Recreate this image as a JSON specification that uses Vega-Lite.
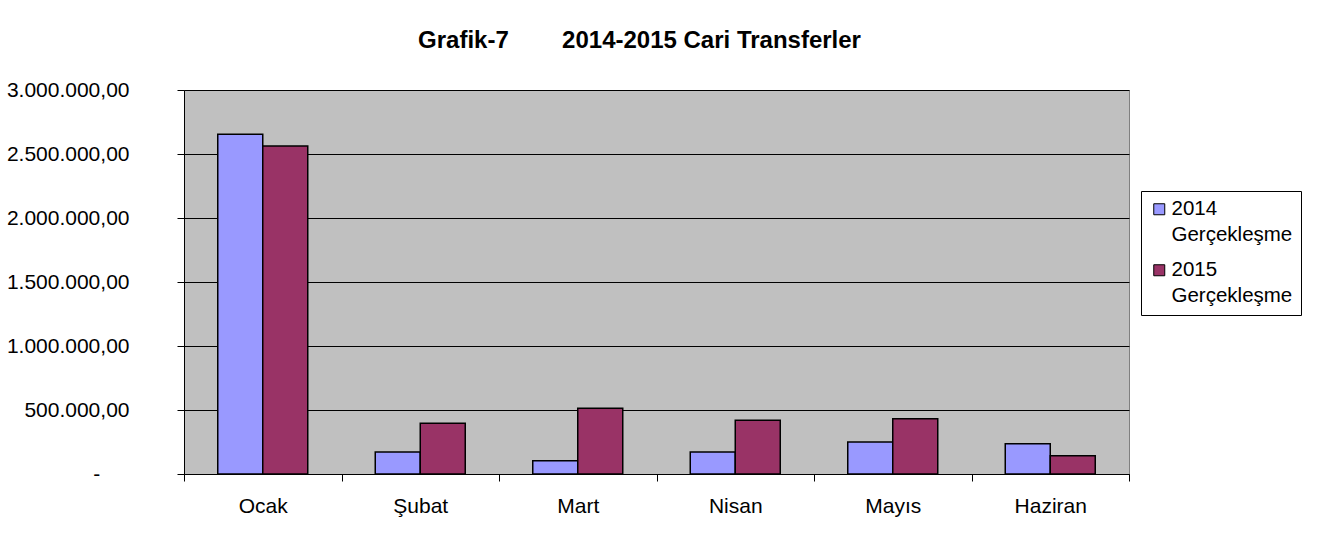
{
  "$schema": "https://vega.github.io/schema/vega-lite/v6.json",
  "width": 945,
  "height": 384,
  "autosize": {"type": "none"},
  "padding": {"left": 184, "top": 90, "right": 192, "bottom": 73},
  "background": "white",
  "title": {
    "text": "Grafik-7\u00a0\u00a0\u00a0\u00a0\u00a0\u00a0\u00a0\u00a02014-2015 Cari Transferler",
    "fontSize": 24,
    "font": "Liberation Sans",
    "fontWeight": "bold",
    "color": "black",
    "anchor": "middle",
    "offset": 26,
    "dx": -17
  },
  "data": {
    "values": [
      {"month": "Ocak", "series": "2014 Gerçekleşme", "value": 2654000},
      {"month": "Ocak", "series": "2015 Gerçekleşme", "value": 2562000},
      {"month": "Şubat", "series": "2014 Gerçekleşme", "value": 172000},
      {"month": "Şubat", "series": "2015 Gerçekleşme", "value": 396000},
      {"month": "Mart", "series": "2014 Gerçekleşme", "value": 104000},
      {"month": "Mart", "series": "2015 Gerçekleşme", "value": 513000},
      {"month": "Nisan", "series": "2014 Gerçekleşme", "value": 172000},
      {"month": "Nisan", "series": "2015 Gerçekleşme", "value": 420000},
      {"month": "Mayıs", "series": "2014 Gerçekleşme", "value": 250000},
      {"month": "Mayıs", "series": "2015 Gerçekleşme", "value": 432000},
      {"month": "Haziran", "series": "2014 Gerçekleşme", "value": 237000},
      {"month": "Haziran", "series": "2015 Gerçekleşme", "value": 143000}
    ]
  },
  "mark": {"type": "bar", "stroke": "black", "strokeWidth": 1.5},
  "encoding": {
    "x": {
      "field": "month",
      "type": "nominal",
      "sort": ["Ocak", "Şubat", "Mart", "Nisan", "Mayıs", "Haziran"],
      "scale": {"paddingInner": 0, "paddingOuter": 0},
      "axis": {
        "title": null,
        "labelAngle": 0,
        "tickBand": "extent",
        "tickSize": 7,
        "labelPadding": 14,
        "labelFontSize": 21,
        "labelColor": "black",
        "domainColor": "black",
        "tickColor": "black",
        "grid": false
      }
    },
    "xOffset": {
      "field": "series",
      "type": "nominal",
      "scale": {"paddingInner": 0, "paddingOuter": 0.75}
    },
    "y": {
      "field": "value",
      "type": "quantitative",
      "scale": {"domain": [0, 3000000]},
      "axis": {
        "title": null,
        "values": [0, 500000, 1000000, 1500000, 2000000, 2500000, 3000000],
        "format": ",.2f",
        "labelExpr": "datum.value == 0 ? '-\u00a0\u00a0\u00a0\u00a0\u00a0\u200b' : datum.label",
        "grid": true,
        "gridColor": "black",
        "gridOpacity": 1,
        "tickSize": 7,
        "labelPadding": 48,
        "labelFontSize": 21,
        "labelColor": "black",
        "domainColor": "black",
        "tickColor": "black"
      }
    },
    "color": {
      "field": "series",
      "type": "nominal",
      "scale": {"range": ["#9999FF", "#993366"]},
      "legend": {
        "title": null,
        "orient": "none",
        "legendX": 957,
        "legendY": 101,
        "strokeColor": "black",
        "fillColor": "white",
        "padding": 8,
        "symbolType": "square",
        "symbolSize": 121,
        "symbolStrokeColor": "black",
        "symbolStrokeWidth": 1,
        "symbolOpacity": 1,
        "labelFontSize": 20.5,
        "labelColor": "black",
        "labelOffset": 2,
        "labelExpr": "split(datum.label, ' ')",
        "labelLimit": 300,
        "rowPadding": 14,
        "encode": {"labels": {"update": {"lineHeight": {"value": 26}}}}
      }
    }
  },
  "config": {
    "font": "Liberation Sans",
    "view": {"stroke": "#808080", "fill": "#C0C0C0"},
    "locale": {
      "number": {"decimal": ",", "thousands": ".", "grouping": [3], "currency": ["", ""]}
    }
  }
}
